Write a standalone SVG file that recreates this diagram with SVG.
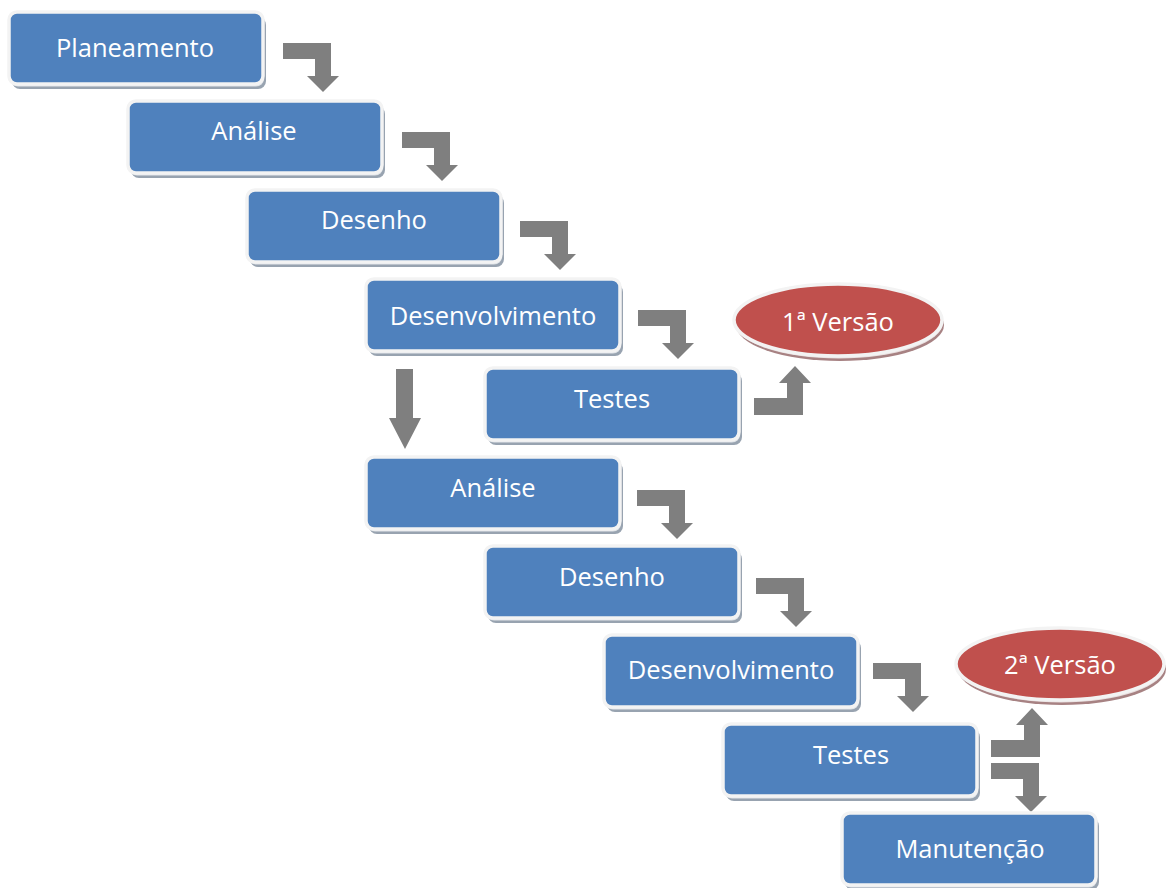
<svg xmlns="http://www.w3.org/2000/svg" xmlns:xlink="http://www.w3.org/1999/xlink" width="1169" height="888" viewBox="0 0 1169 888">
<style>
.sh2{fill:#98a3b0;stroke:none}
.sh1{fill:#dfe3e8;stroke:none}
.box{fill:#4f81bd;stroke:#f3f3f3;stroke-width:3.5}
.osh2{fill:#a78283;stroke:none}
.osh1{fill:#e9dede;stroke:none}
.oval{fill:#c0504d;stroke:#f3f3f3;stroke-width:3.5}
.lbl{font-family:"Open Sans","Liberation Sans",sans-serif;font-size:25.5px;fill:#ffffff;text-anchor:middle}
.arr{fill:#7f7f7f}
</style>
<defs>
<path id="elbowDown" d="M0,0 H48 V33 H56 L40,49 L24,33 H32 V16 H0 Z"/>
<path id="elbowUp" d="M0,0 V-17 H33 V-32 H25 L41,-49 L57,-32 H49 V0 Z"/>
<g id="boxShape">
<rect class="sh2" x="3" y="5" width="254" height="72" rx="8"/>
<rect class="sh1" x="1" y="2.5" width="254" height="72" rx="8"/>
<rect class="box" x="0" y="0" width="254" height="72" rx="8"/>
</g>
<g id="ovalShape">
<ellipse class="osh2" cx="2" cy="5" rx="104" ry="36"/>
<ellipse class="osh1" cx="1" cy="2.5" rx="104" ry="36"/>
<ellipse class="oval" cx="0" cy="0" rx="104" ry="36"/>
</g>
</defs>
<g id="connectors" class="arr">
<use xlink:href="#elbowDown" x="283" y="43"/>
<use xlink:href="#elbowDown" x="402" y="132"/>
<use xlink:href="#elbowDown" x="520" y="221"/>
<use xlink:href="#elbowDown" x="638" y="310"/>
<use xlink:href="#elbowUp" x="754" y="415"/>
<path d="M396,369 H413 V418 H421 L405,449 L389,418 H396 Z"/>
<use xlink:href="#elbowDown" x="637" y="490"/>
<use xlink:href="#elbowDown" x="756" y="578"/>
<use xlink:href="#elbowDown" x="873" y="663"/>
<use xlink:href="#elbowUp" x="991" y="757"/>
<use xlink:href="#elbowDown" x="991" y="763"/>
</g>
<g id="n1"><use xlink:href="#boxShape" x="9" y="12"/><text class="lbl" x="135" y="57">Planeamento</text></g>
<g id="n2"><use xlink:href="#boxShape" x="128" y="101"/><text class="lbl" x="254" y="140">Análise</text></g>
<g id="n3"><use xlink:href="#boxShape" x="247" y="190"/><text class="lbl" x="374" y="229">Desenho</text></g>
<g id="n4"><use xlink:href="#boxShape" x="366" y="279"/><text class="lbl" x="493" y="325">Desenvolvimento</text></g>
<g id="n5"><use xlink:href="#boxShape" x="485" y="368"/><text class="lbl" x="612" y="408">Testes</text></g>
<g id="v1"><use xlink:href="#ovalShape" x="838" y="320"/><text class="lbl" x="838" y="331">1ª Versão</text></g>
<g id="n6"><use xlink:href="#boxShape" x="366" y="457"/><text class="lbl" x="493" y="497">Análise</text></g>
<g id="n7"><use xlink:href="#boxShape" x="485" y="546"/><text class="lbl" x="612" y="586">Desenho</text></g>
<g id="n8"><use xlink:href="#boxShape" x="604" y="635"/><text class="lbl" x="731" y="679">Desenvolvimento</text></g>
<g id="n9"><use xlink:href="#boxShape" x="723" y="724"/><text class="lbl" x="851" y="764">Testes</text></g>
<g id="v2"><use xlink:href="#ovalShape" x="1060" y="664"/><text class="lbl" x="1060" y="674">2ª Versão</text></g>
<g id="n10"><use xlink:href="#boxShape" x="842" y="813"/><text class="lbl" x="970" y="858">Manutenção</text></g>
</svg>
